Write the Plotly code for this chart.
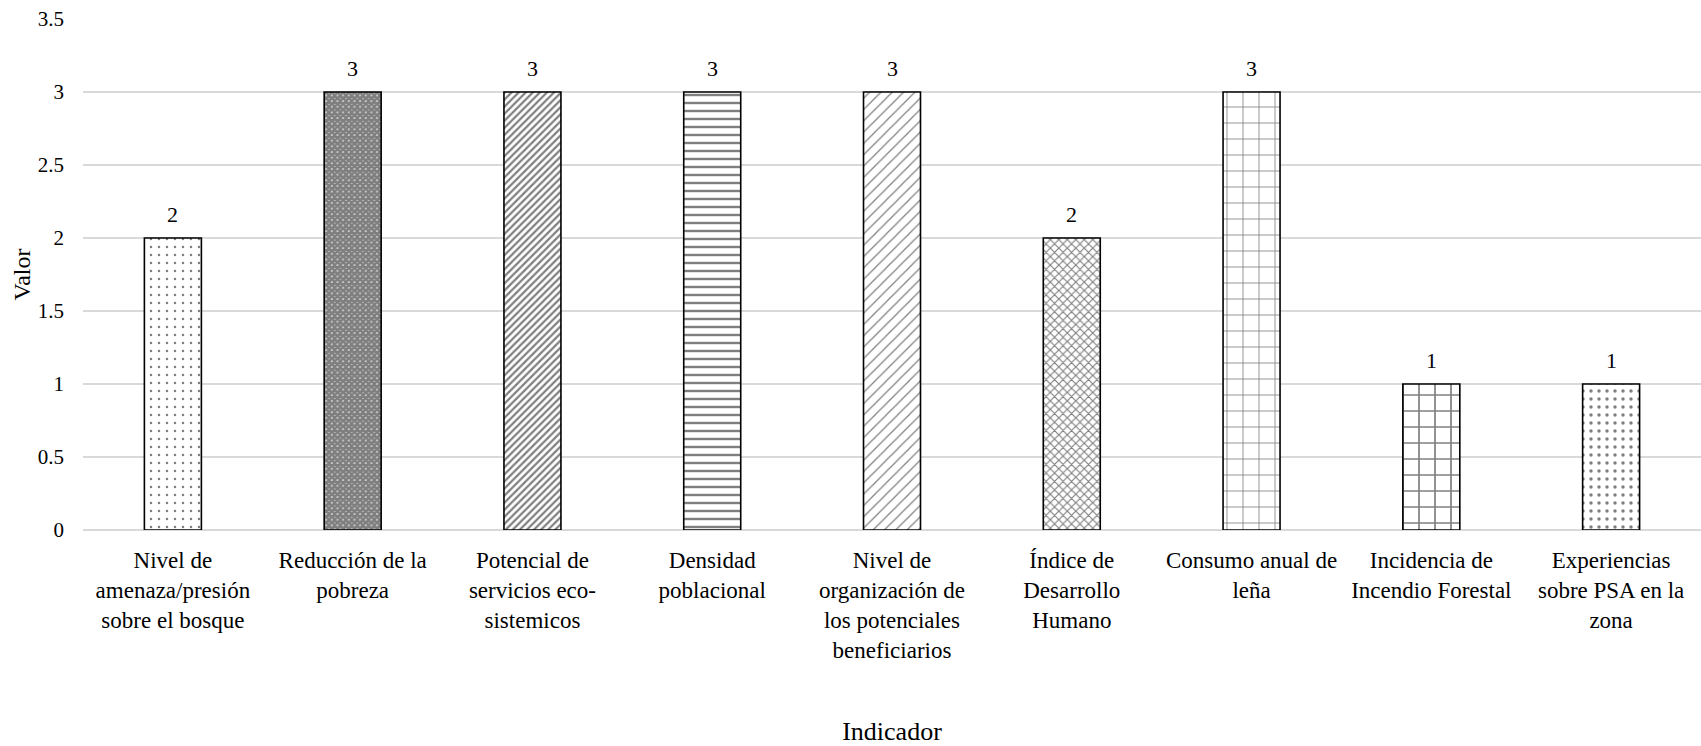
import plotly.graph_objects as go

# Indicator names (tick labels, wrapped as shown on the axis)
indicadores = [
    "Nivel de<br>amenaza/presión<br>sobre el bosque",
    "Reducción de la<br>pobreza",
    "Potencial de<br>servicios eco-<br>sistemicos",
    "Densidad<br>poblacional",
    "Nivel de<br>organización de<br>los potenciales<br>beneficiarios",
    "Índice de<br>Desarrollo<br>Humano",
    "Consumo anual de<br>leña",
    "Incidencia de<br>Incendio Forestal",
    "Experiencias<br>sobre PSA en la<br>zona",
]
valores = [2, 3, 3, 3, 3, 2, 3, 1, 1]

# Hatch fill for each bar: (shape, size, solidity)
patrones = [
    (".", 8, 0.08),
    ("x", 4, 0.9),
    ("/", 5, 0.45),
    ("-", 8, 0.3),
    ("/", 8, 0.15),
    ("x", 6, 0.35),
    ("+", 16, 0.1),
    ("+", 16, 0.2),
    (".", 8, 0.15),
]

FONT = "Liberation Serif, Times New Roman, serif"

fig = go.Figure(
    go.Bar(
        x=list(range(len(valores))),
        y=valores,
        width=0.317,
        marker=dict(
            color="white",
            line=dict(color="black", width=1.6),
            pattern=dict(
                shape=[p[0] for p in patrones],
                size=[p[1] for p in patrones],
                solidity=[p[2] for p in patrones],
                fgcolor="black",
                bgcolor="white",
                fillmode="overlay",
            ),
        ),
        showlegend=False,
    )
)

# Value labels above each bar
for i, v in enumerate(valores):
    fig.add_annotation(
        x=i, y=v, text=str(v), showarrow=False,
        yanchor="bottom", yshift=9,
        font=dict(family=FONT, size=22, color="black"),
    )

fig.update_layout(
    width=1701,
    height=746,
    margin=dict(l=83, r=0, t=19, b=216),
    paper_bgcolor="white",
    plot_bgcolor="white",
    font=dict(family=FONT, size=22, color="black"),
)

fig.update_xaxes(
    tickmode="array",
    tickvals=list(range(len(indicadores))),
    ticktext=indicadores,
    range=[-0.5, len(indicadores) - 0.5],
    showgrid=False,
    showline=False,
    zeroline=False,
    ticks="",
    tickangle=0,
    ticklabelstandoff=14,
    tickfont=dict(family=FONT, size=23),
    title=dict(text="Indicador", font=dict(family=FONT, size=26), standoff=62),
    automargin=False,
)

fig.update_yaxes(
    range=[0, 3.5],
    dtick=0.5,
    tickformat="~g",
    showgrid=True,
    gridcolor="#d9d9d9",
    gridwidth=1.5,
    zeroline=True,
    zerolinecolor="#d9d9d9",
    zerolinewidth=1.5,
    showline=False,
    ticks="",
    ticklabelstandoff=18,
    tickfont=dict(family=FONT, size=21),
    title=dict(text="Valor", font=dict(family=FONT, size=24), standoff=0),
    automargin=False,
)

fig.write_html("out.html")
